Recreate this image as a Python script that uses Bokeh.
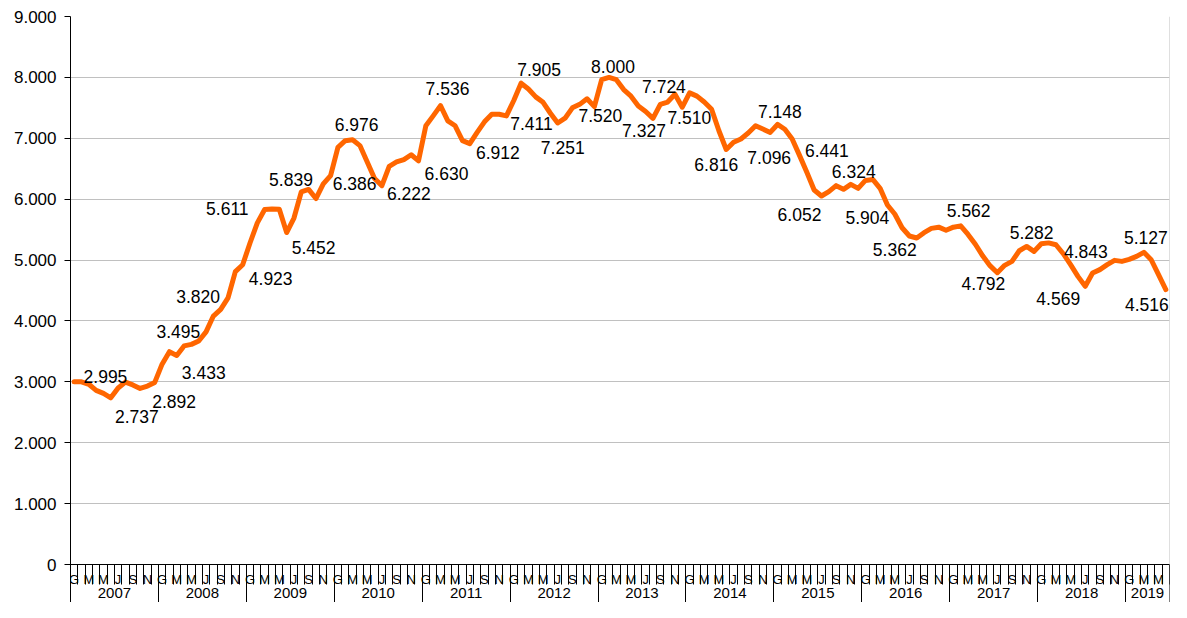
from bokeh.plotting import figure
from bokeh.models import Range1d, FixedTicker, LinearAxis, ColumnDataSource
from bokeh.embed import file_html
from bokeh.resources import INLINE
from bokeh.core.properties import value

# ---- data -------------------------------------------------------------
years = ["2007", "2008", "2009", "2010", "2011", "2012", "2013",
         "2014", "2015", "2016", "2017", "2018", "2019"]
month_letters = ["G", "M", "M", "J", "S", "N"]  # shown every other month

v2007 = [3000, 3000, 2960, 2860, 2810, 2737, 2900, 2995, 2950, 2892, 2930, 2990]
v2008 = [3290, 3495, 3433, 3590, 3615, 3670, 3820, 4080, 4190, 4380, 4810, 4923]
v2009 = [5280, 5611, 5830, 5839, 5835, 5452, 5690, 6120, 6160, 6010, 6250, 6386]
v2010 = [6850, 6960, 6976, 6880, 6610, 6340, 6222, 6540, 6611, 6650, 6730, 6630]
v2011 = [7205, 7368, 7536, 7286, 7205, 6962, 6912, 7097, 7270, 7395, 7395, 7368]
v2012 = [7620, 7905, 7810, 7680, 7590, 7411, 7251, 7330, 7500, 7557, 7649, 7520]
v2013 = [7962, 8000, 7962, 7800, 7692, 7530, 7440, 7327, 7557, 7595, 7724, 7510]
v2014 = [7746, 7692, 7595, 7476, 7124, 6816, 6935, 6989, 7086, 7205, 7151, 7096]
v2015 = [7227, 7148, 6989, 6719, 6441, 6150, 6052, 6124, 6222, 6162, 6243, 6178]
v2016 = [6308, 6324, 6178, 5904, 5757, 5530, 5395, 5362, 5450, 5520, 5540, 5490]
v2017 = [5540, 5562, 5420, 5260, 5070, 4908, 4792, 4913, 4978, 5153, 5224, 5142]
v2018 = [5268, 5282, 5251, 5104, 4924, 4732, 4569, 4787, 4843, 4924, 4995, 4978]
v2019 = [5011, 5060, 5127, 5005, 4760, 4516]

values = (v2007 + v2008 + v2009 + v2010 + v2011 + v2012 + v2013 +
          v2014 + v2015 + v2016 + v2017 + v2018 + v2019)

# months (0 = Jan 2007) that carry a data label
label_months = [5, 7, 9, 13, 14, 18, 23, 25, 27, 29, 35, 38, 42, 47, 50, 54,
                61, 65, 66, 71, 73, 79, 82, 83, 89, 95, 97, 100, 102, 109,
                111, 115, 121, 126, 133, 138, 140, 146, 149]
# label placement (screen px offsets from the point; +dy = down)
label_dx = [26, -20, 34, 9, 27, -8, 28, -30, 19, 27, 24, 4, 27, 28, 7, 28,
            18, -19, 5, 6, 4, -9, -11, 7, -10, -1, -5, 20, -22, -19,
            -20, -22, 8, -14, -17, -27, -14, 2, -19]
label_dy = [19, -6, 13, -20, 17, -35, 14, -14, -29, 15, 8, -15, 8, 13, -17, 9,
            -14, 10, 25, 9, -11, 12, -8, 10, 15, 25, -18, -22, 18, -8,
            12, 11, -15, 11, -10, 12, -18, -15, 15]

# ---- layout -----------------------------------------------------------
W, H = 1171, 602
TOP, ZERO_Y = 16, 564            # pixel rows of the 9.000 and 0 gridlines
YMAX = 9000
below_units = YMAX * (H - ZERO_Y) / (ZERO_Y - TOP)   # axis strip under 0

n = len(values)
xs = [i + 0.5 for i in range(n)]

p = figure(width=W, height=H, output_backend="svg", toolbar_location=None,
           x_range=Range1d(0, n), y_range=Range1d(-below_units, YMAX),
           x_axis_location=None, y_axis_location="left",
           min_border_left=70, min_border_right=2, min_border_top=TOP,
           min_border_bottom=0)
p.background_fill_color = "white"
p.border_fill_color = "white"
p.outline_line_color = None

FONT = "Liberation Sans"

# y axis
yt = list(range(0, YMAX + 1, 1000))
p.yaxis.ticker = FixedTicker(ticks=yt)
p.yaxis.major_label_overrides = {t: (f"{t:,}".replace(",", ".")) for t in yt}
p.yaxis.axis_line_color = "black"
p.yaxis.major_tick_line_color = "black"
p.yaxis.major_tick_out = 6
p.yaxis.major_tick_in = 0
p.yaxis.minor_tick_line_color = None
p.yaxis.major_label_standoff = 8
p.yaxis.major_label_text_font = FONT
p.yaxis.major_label_text_font_size = "17px"
p.yaxis.major_label_text_color = "black"

p.ygrid.ticker = FixedTicker(ticks=yt)
p.ygrid.grid_line_color = "#c0c0c0"
p.xgrid.visible = False

# right border of the plot area
p.segment(x0=[n], y0=[0], x1=[n], y1=[YMAX], line_color="#c0c0c0", line_width=1)

# month axis (drawn at y = 0 inside the frame)
mt = [i + 0.5 for i in range(0, n, 2)]
ax_m = LinearAxis(
    ticker=FixedTicker(ticks=mt, minor_ticks=list(range(0, n + 1))),
    fixed_location=0,
    major_label_overrides={i + 0.5: month_letters[(i % 12) // 2] for i in range(0, n, 2)},
    major_tick_out=0, major_tick_in=0,
    minor_tick_out=20, minor_tick_in=0,
    axis_line_color="black", minor_tick_line_color="black",
    major_tick_line_color=None,
    major_label_standoff=-13,
    major_label_text_font=FONT, major_label_text_font_size="13px",
    major_label_text_color="black",
)
p.add_layout(ax_m, "below")

# year axis
bounds = list(range(0, n, 12)) + [n]
centers = [(bounds[k] + bounds[k + 1]) / 2 for k in range(len(years))]
ax_y = LinearAxis(
    ticker=FixedTicker(ticks=centers, minor_ticks=bounds),
    fixed_location=0,
    major_label_overrides={c: y for c, y in zip(centers, years)},
    major_tick_out=0, major_tick_in=0,
    minor_tick_out=40, minor_tick_in=0,
    axis_line_color=None, major_tick_line_color=None,
    minor_tick_line_color="black",
    major_label_standoff=-17,
    major_label_text_font=FONT, major_label_text_font_size="15px",
    major_label_text_color="black",
)
p.add_layout(ax_y, "below")

# series line
p.line(xs, values, line_color="#FF6600", line_width=5,
       line_join="round", line_cap="round")

# data labels
src = ColumnDataSource(dict(
    x=[xs[i] for i in label_months],
    y=[values[i] for i in label_months],
    text=[f"{values[i]:,}".replace(",", ".") for i in label_months],
    dx=label_dx, dy=label_dy,
))
p.text(x="x", y="y", text="text", x_offset="dx", y_offset="dy", source=src,
       text_align="center", text_baseline="middle",
       text_font=value(FONT), text_font_size="17.5px", text_color="black")

open("out.html", "w").write(file_html(p, INLINE))
